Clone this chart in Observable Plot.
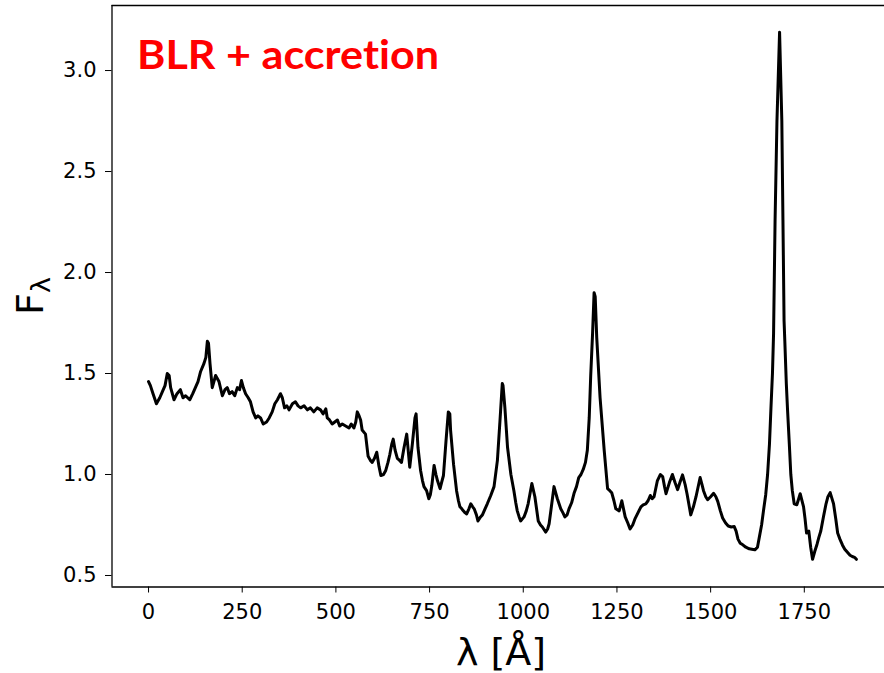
<!DOCTYPE html>
<html><head><meta charset="utf-8">
<script src="https://cdn.jsdelivr.net/npm/d3@7"></script>
<script src="https://cdn.jsdelivr.net/npm/@observablehq/plot@0.6"></script>
<style>html,body{margin:0;padding:0;background:#fff}</style>
</head><body><div id="chart"></div>
<script>
// Spectrum: wavelength (Å) and flux F_lambda
const wavelength = [0,5,12,21,30,37,44,50,55,59,68,76,85,92,99,110,118,125,132,139,148,153,157,160,164,170,179,188,197,204,210,216,223,230,237,243,248,253,259,266,272,279,286,292,299,306,315,322,330,337,344,352,357,363,369,375,384,392,399,406,415,424,432,441,450,459,466,473,477,483,490,497,504,510,517,526,535,541,548,553,557,562,566,570,579,586,592,597,603,609,615,620,627,633,639,644,649,653,658,664,670,675,682,689,697,704,711,714,719,726,731,735,742,748,752,756,762,767,771,778,782,787,794,800,804,806,814,822,827,831,836,840,845,849,855,860,865,869,875,879,886,891,898,904,913,922,931,938,944,946,951,958,967,975,980,984,989,993,1002,1008,1013,1023,1031,1040,1046,1051,1060,1065,1069,1075,1082,1091,1100,1106,1111,1117,1122,1129,1136,1142,1148,1154,1160,1166,1171,1176,1180,1185,1189,1192,1196,1205,1216,1225,1231,1236,1242,1247,1256,1263,1272,1279,1285,1292,1298,1306,1314,1320,1327,1333,1339,1344,1349,1358,1366,1372,1377,1381,1390,1398,1405,1412,1418,1425,1432,1437,1447,1454,1461,1472,1477,1481,1487,1492,1500,1508,1514,1519,1526,1532,1540,1547,1555,1563,1568,1573,1579,1585,1594,1603,1610,1618,1625,1630,1636,1641,1647,1652,1657,1661,1665,1668,1672,1677,1684,1690,1693,1696,1698,1702,1705,1710,1714,1718,1723,1730,1735,1739,1748,1752,1756,1762,1767,1772,1778,1784,1789,1794,1801,1808,1813,1819,1828,1834,1839,1845,1852,1858,1865,1872,1878,1884,1889];
const flux = [1.46,1.44,1.40,1.35,1.38,1.41,1.44,1.50,1.49,1.43,1.37,1.40,1.42,1.38,1.39,1.37,1.40,1.43,1.46,1.51,1.55,1.58,1.66,1.65,1.55,1.43,1.49,1.46,1.39,1.42,1.43,1.40,1.41,1.39,1.43,1.42,1.465,1.43,1.40,1.38,1.36,1.31,1.28,1.29,1.28,1.25,1.26,1.28,1.31,1.35,1.37,1.40,1.38,1.33,1.34,1.32,1.35,1.36,1.34,1.33,1.34,1.32,1.33,1.31,1.33,1.32,1.30,1.325,1.28,1.27,1.25,1.26,1.27,1.24,1.25,1.24,1.23,1.25,1.23,1.26,1.31,1.29,1.27,1.22,1.20,1.09,1.07,1.06,1.08,1.11,1.04,0.995,1.00,1.02,1.06,1.10,1.15,1.175,1.12,1.08,1.07,1.06,1.135,1.20,1.036,1.15,1.28,1.30,1.135,1.02,0.97,0.94,0.92,0.88,0.90,0.945,1.045,1.00,0.97,0.93,0.96,0.995,1.17,1.31,1.30,1.22,1.05,0.92,0.87,0.84,0.83,0.82,0.81,0.805,0.83,0.855,0.84,0.83,0.80,0.77,0.79,0.80,0.83,0.855,0.895,0.94,1.07,1.27,1.45,1.44,1.33,1.135,1.00,0.92,0.86,0.82,0.79,0.77,0.79,0.82,0.855,0.955,0.89,0.77,0.75,0.74,0.715,0.73,0.756,0.84,0.94,0.88,0.83,0.81,0.79,0.80,0.83,0.86,0.91,0.94,0.985,1.00,1.025,1.06,1.12,1.28,1.49,1.70,1.90,1.88,1.68,1.38,1.12,0.93,0.92,0.91,0.87,0.83,0.82,0.87,0.79,0.76,0.73,0.75,0.78,0.81,0.84,0.85,0.855,0.87,0.896,0.88,0.89,0.97,1.00,0.99,0.94,0.905,0.96,1.00,0.96,0.925,0.96,0.998,0.95,0.905,0.80,0.84,0.89,0.985,0.95,0.92,0.89,0.875,0.89,0.907,0.89,0.867,0.82,0.785,0.76,0.745,0.74,0.742,0.72,0.68,0.66,0.653,0.64,0.632,0.63,0.627,0.64,0.69,0.75,0.82,0.90,1.00,1.15,1.33,1.50,1.70,2.26,2.75,3.19,2.75,2.26,1.76,1.66,1.45,1.33,1.15,1.00,0.92,0.855,0.85,0.88,0.905,0.84,0.78,0.71,0.72,0.64,0.58,0.62,0.655,0.69,0.72,0.79,0.855,0.89,0.91,0.855,0.78,0.71,0.68,0.65,0.63,0.615,0.60,0.594,0.59,0.58];
const xTicks = [0,250,500,750,1000,1250,1500,1750];
const yTicks = [0.5,1.0,1.5,2.0,2.5,3.0];
const titleText = "BLR + accretion";
const xLabelText = "λ [Å]";
const yLabelMain = "F";
const yLabelSub = "λ";

const data = wavelength.map((x, i) => ({x, y: flux[i]}));
const xDomain = [-97.5, 1964];
const yDomain = [0.443, 3.322];

const plot = Plot.plot({
  width: 884, height: 673,
  marginLeft: 111.5, marginRight: 0, marginTop: 5, marginBottom: 86.5,
  style: {fontFamily: "DejaVu Sans", fontSize: "21px", color: "#000", background: "#fff", overflow: "visible"},
  x: {domain: xDomain, ticks: xTicks, tickFormat: d => String(d), tickSize: 6, tickPadding: 11, label: null},
  y: {domain: yDomain, ticks: yTicks, tickFormat: d => d.toFixed(1), tickSize: 6.5, tickPadding: 9, label: null},
  marks: [
    Plot.ruleX([xDomain[0]], {stroke: "#000", strokeWidth: 1.3}),
    Plot.ruleY([yDomain[0], yDomain[1]], {stroke: "#000", strokeWidth: 1.3}),
    Plot.line(data, {x: "x", y: "y", stroke: "#000", strokeWidth: 3, strokeLinejoin: "round"})
  ]
});
document.getElementById("chart").append(plot);

const svg = d3.select(plot);
// title inside axes
svg.append("text")
  .attr("x", 137).attr("y", 68.5)
  .attr("text-anchor", "start")
  .attr("fill", "#ff0000")
  .attr("font-family", "Lato, 'Open Sans', sans-serif")
  .attr("font-weight", 700)
  .attr("font-size", 41)
  .style("font-variant-ligatures", "none")
  .attr("textLength", 302).attr("lengthAdjust", "spacingAndGlyphs")
  .text(titleText);
// x label
svg.append("text")
  .attr("x", 501).attr("y", 665)
  .attr("text-anchor", "middle")
  .attr("font-family", "DejaVu Sans").attr("font-size", 38)
  .attr("fill", "#000")
  .text(xLabelText);
// y label with subscript
const yl = svg.append("text")
  .attr("transform", "translate(43,296) rotate(-90)")
  .attr("text-anchor", "middle")
  .attr("font-family", "DejaVu Sans").attr("font-size", 38)
  .attr("fill", "#000");
yl.append("tspan").text(yLabelMain);
yl.append("tspan").attr("font-size", 27).attr("dy", 7).text(yLabelSub);
</script>
</body></html>
